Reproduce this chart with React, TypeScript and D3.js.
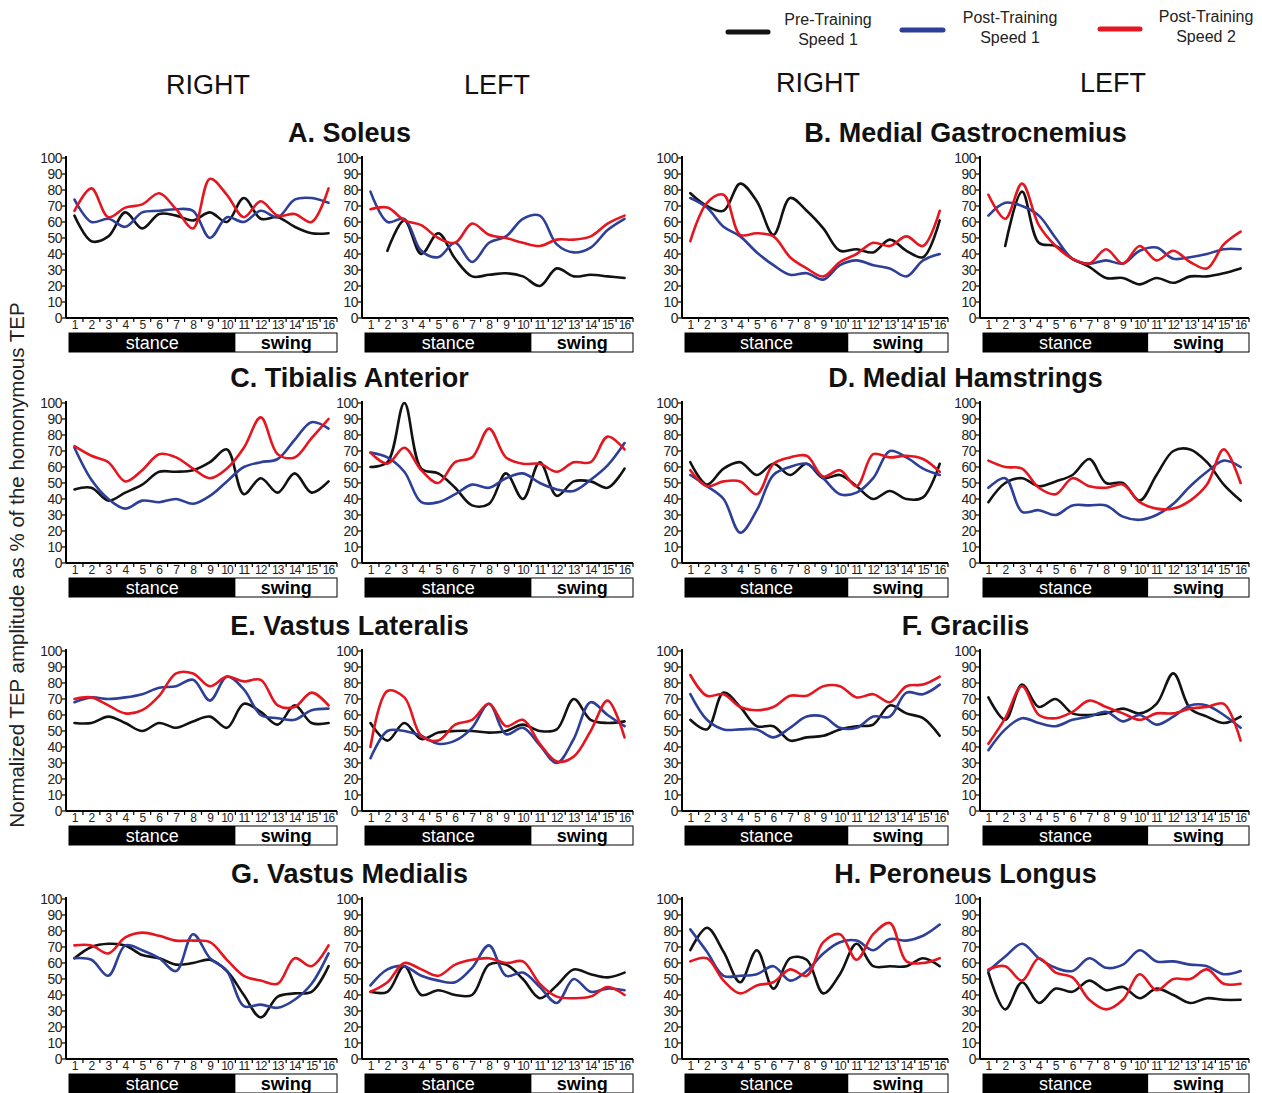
import * as d3 from 'd3'

// gait cycle bins 1..16
const bins = d3.range(1, 17).map(String)
const yTicks = d3.range(0, 101, 10)

// A. Soleus
const soleusR_pre = [64, 48, 51, 66, 56, 65, 64, 61, 66, 60, 75, 62, 63, 57, 53, 53]
const soleusR_post1 = [74, 60, 62, 57, 66, 67, 68, 67, 50, 63, 60, 67, 63, 74, 75, 72]
const soleusR_post2 = [67, 81, 63, 69, 71, 78, 68, 56, 87, 77, 63, 73, 64, 65, 60, 81]
const soleusL_pre = [null, 42, 61, 40, 53, 37, 26, 27, 28, 26, 20, 31, 26, 27, 26, 25]
const soleusL_post1 = [79, 60, 62, 42, 38, 47, 35, 47, 51, 62, 64, 46, 41, 44, 55, 62]
const soleusL_post2 = [68, 69, 61, 58, 50, 47, 59, 52, 50, 47, 45, 49, 49, 51, 59, 64]

// B. Medial Gastrocnemius
const mgR_pre = [78, 70, 67, 84, 73, 52, 75, 67, 56, 42, 43, 41, 49, 42, 38, 61]
const mgR_post1 = [75, 69, 57, 51, 41, 33, 27, 28, 24, 33, 36, 33, 31, 26, 36, 40]
const mgR_post2 = [48, 72, 77, 52, 53, 51, 38, 31, 26, 35, 40, 47, 45, 51, 45, 67]
const mgL_pre = [null, 45, 79, 47, 45, 37, 32, 25, 25, 21, 25, 22, 26, 26, 28, 31]
const mgL_post1 = [64, 72, 70, 64, 50, 37, 34, 36, 34, 42, 44, 37, 38, 40, 43, 43]
const mgL_post2 = [77, 62, 84, 58, 45, 37, 34, 43, 34, 45, 36, 42, 35, 31, 46, 54]

// C. Tibialis Anterior
const taR_pre = [46, 47, 39, 44, 49, 57, 57, 58, 63, 71, 43, 53, 44, 56, 44, 51]
const taR_post1 = [72, 52, 40, 34, 39, 38, 40, 37, 42, 51, 60, 63, 65, 77, 88, 84]
const taR_post2 = [73, 67, 63, 51, 58, 68, 66, 59, 53, 59, 72, 91, 68, 66, 78, 90]
const taL_pre = [60, 63, 100, 59, 56, 47, 36, 37, 56, 40, 63, 42, 51, 51, 47, 59]
const taL_post1 = [69, 66, 57, 38, 38, 43, 49, 47, 53, 56, 50, 46, 45, 52, 61, 75]
const taL_post2 = [69, 62, 72, 58, 50, 63, 66, 84, 66, 62, 62, 57, 63, 63, 79, 71]

// D. Medial Hamstrings
const mhR_pre = [63, 49, 59, 63, 55, 62, 55, 62, 53, 55, 48, 40, 45, 40, 41, 62]
const mhR_post1 = [55, 48, 40, 19, 33, 55, 60, 62, 53, 43, 44, 53, 70, 66, 59, 55]
const mhR_post2 = [58, 48, 51, 51, 43, 62, 66, 67, 54, 58, 48, 68, 66, 67, 65, 57]
const mhL_pre = [38, 50, 53, 48, 51, 55, 65, 50, 50, 39, 55, 70, 71, 63, 49, 39]
const mhL_post1 = [47, 53, 32, 33, 30, 36, 36, 36, 29, 27, 30, 37, 48, 57, 64, 60]
const mhL_post2 = [64, 60, 59, 47, 43, 53, 48, 47, 49, 38, 34, 34, 39, 49, 71, 50]

// E. Vastus Lateralis
const vlR_pre = [55, 55, 59, 55, 50, 55, 52, 56, 59, 52, 67, 62, 54, 66, 55, 55]
const vlR_post1 = [68, 71, 70, 71, 73, 77, 78, 82, 69, 84, 76, 60, 58, 57, 63, 64]
const vlR_post2 = [70, 71, 66, 61, 63, 72, 86, 86, 78, 84, 81, 82, 66, 65, 74, 66]
const vlL_pre = [55, 44, 55, 45, 49, 50, 50, 49, 50, 54, 50, 51, 70, 57, 55, 56]
const vlL_post1 = [33, 50, 50, 47, 42, 44, 52, 67, 48, 52, 41, 30, 45, 68, 60, 53]
const vlL_post2 = [40, 75, 71, 47, 44, 54, 57, 67, 53, 57, 42, 31, 34, 50, 69, 46]

// F. Gracilis
const grR_pre = [57, 51, 74, 65, 53, 53, 44, 46, 47, 51, 53, 54, 66, 61, 58, 47]
const grR_post1 = [73, 57, 51, 51, 51, 46, 52, 59, 59, 52, 52, 59, 59, 74, 73, 79]
const grR_post2 = [85, 72, 73, 65, 63, 65, 72, 72, 78, 78, 71, 73, 68, 78, 79, 84]
const grL_pre = [71, 57, 79, 65, 70, 61, 60, 61, 64, 61, 67, 86, 64, 59, 55, 59]
const grL_post1 = [38, 51, 58, 55, 53, 57, 59, 62, 56, 60, 54, 59, 66, 66, 60, 52]
const grL_post2 = [42, 58, 78, 60, 58, 62, 69, 65, 61, 57, 61, 61, 64, 65, 67, 44]

// G. Vastus Medialis
const vmR_pre = [63, 70, 72, 71, 65, 63, 59, 60, 62, 55, 40, 26, 39, 41, 42, 58]
const vmR_post1 = [63, 62, 52, 71, 68, 63, 55, 78, 63, 55, 33, 34, 32, 37, 47, 66]
const vmR_post2 = [71, 71, 66, 76, 79, 77, 74, 74, 73, 62, 52, 49, 47, 63, 58, 71]
const vmL_pre = [42, 42, 58, 40, 43, 40, 40, 59, 59, 50, 38, 46, 56, 53, 51, 54]
const vmL_post1 = [46, 56, 58, 52, 49, 48, 57, 71, 52, 54, 45, 35, 50, 42, 44, 43]
const vmL_post2 = [42, 48, 60, 56, 52, 59, 62, 63, 60, 61, 47, 39, 38, 39, 45, 40]

// H. Peroneus Longus
const plR_pre = [68, 82, 67, 48, 68, 44, 63, 62, 41, 53, 72, 58, 58, 58, 63, 58]
const plR_post1 = [81, 67, 52, 52, 53, 58, 49, 55, 66, 73, 74, 68, 75, 74, 77, 84]
const plR_post2 = [61, 63, 49, 41, 46, 48, 56, 52, 73, 78, 62, 78, 85, 61, 60, 63]
const plL_pre = [54, 31, 48, 35, 44, 42, 49, 43, 45, 38, 44, 40, 35, 38, 37, 37]
const plL_post1 = [55, 64, 72, 63, 57, 55, 63, 57, 59, 68, 61, 61, 59, 58, 53, 55]
const plL_post2 = [56, 58, 49, 63, 54, 51, 37, 31, 37, 53, 43, 50, 50, 56, 47, 47]

const muscles = [
  'A. Soleus', 'B. Medial Gastrocnemius', 'C. Tibialis Anterior', 'D. Medial Hamstrings',
  'E. Vastus Lateralis', 'F. Gracilis', 'G. Vastus Medialis', 'H. Peroneus Longus',
]
const seriesNames = [['Pre-Training', 'Speed 1'], ['Post-Training', 'Speed 1'], ['Post-Training', 'Speed 2']]
const colors = ['#121212', '#2d3f97', '#e4161f']

// [right, left] per muscle, each [pre, post1, post2]
const panels = [
  [[soleusR_pre, soleusR_post1, soleusR_post2], [soleusL_pre, soleusL_post1, soleusL_post2]],
  [[mgR_pre, mgR_post1, mgR_post2], [mgL_pre, mgL_post1, mgL_post2]],
  [[taR_pre, taR_post1, taR_post2], [taL_pre, taL_post1, taL_post2]],
  [[mhR_pre, mhR_post1, mhR_post2], [mhL_pre, mhL_post1, mhL_post2]],
  [[vlR_pre, vlR_post1, vlR_post2], [vlL_pre, vlL_post1, vlL_post2]],
  [[grR_pre, grR_post1, grR_post2], [grL_pre, grL_post1, grL_post2]],
  [[vmR_pre, vmR_post1, vmR_post2], [vmL_pre, vmL_post1, vmL_post2]],
  [[plR_pre, plR_post1, plR_post2], [plL_pre, plL_post1, plL_post2]],
]

const colLeft = [66, 362, 682, 980]
const colRight = [337, 633, 948, 1249]
const rowZero = [318, 563, 811, 1059]
const plotH = 160
const font = '"Liberation Sans", Arial, Helvetica, sans-serif'

function Panel({ col, row, series }: { col: number; row: number; series: (number | null)[][] }) {
  const x0 = colLeft[col]
  const x1 = colRight[col]
  const yb = rowZero[row]
  const x = d3.scaleBand().domain(bins).range([x0, x1])
  const y = d3.scaleLinear().domain([0, 100]).range([yb, yb - plotH])
  const line = d3.line<number | null>()
    .defined(d => d != null)
    .x((_, i) => (x(bins[i]) as number) + x.bandwidth() / 2)
    .y(d => y(d as number))
    .curve(d3.curveCatmullRom.alpha(0.5))
  const split = (x('10') as number) + x.bandwidth()
  const barTop = yb + 15
  const barH = 19
  return (
    <g>
      {series.map((s, i) => (
        <path key={i} d={line(s) || ''} fill="none" stroke={colors[i]} strokeWidth={2.6}
          strokeLinejoin="round" strokeLinecap="round" />
      ))}
      <line x1={x0} x2={x0} y1={y(100) - 2} y2={yb} stroke="#000" strokeWidth={2} />
      <line x1={x0} x2={x1} y1={yb} y2={yb} stroke="#000" strokeWidth={2} />
      {yTicks.map(t => (
        <g key={t}>
          <line x1={x0 - 4} x2={x0} y1={y(t)} y2={y(t)} stroke="#000" strokeWidth={1.2} />
          <text x={x0 - 4} y={y(t) + 5} textAnchor="end" fontSize={13.8} fontFamily={font}
            letterSpacing={-0.4} fill="#222">{t}</text>
        </g>
      ))}
      {bins.map(b => (
        <g key={b}>
          <line x1={(x(b) as number) + x.bandwidth()} x2={(x(b) as number) + x.bandwidth()}
            y1={yb} y2={yb + 4} stroke="#000" strokeWidth={1.2} />
          <text x={(x(b) as number) + x.bandwidth() / 2} y={yb + 11} textAnchor="middle"
            fontSize={12} fontFamily={font} letterSpacing={-1} fill="#222">{b}</text>
        </g>
      ))}
      <rect x={x0 + 3} y={barTop} width={x1 - x0 - 3} height={barH} fill="#fff" stroke="#000" strokeWidth={1} />
      <rect x={x0 + 3} y={barTop} width={split - x0 - 3} height={barH} fill="#000" />
      <text x={(x0 + 3 + split) / 2} y={barTop + 15.5} textAnchor="middle" fontSize={18}
        fontFamily={font} fill="#fff">stance</text>
      <text x={(split + x1) / 2} y={barTop + 15.5} textAnchor="middle" fontSize={18}
        fontWeight="bold" fontFamily={font} fill="#000">swing</text>
    </g>
  )
}

export default function App() {
  const legendX = [[728, 768, 828], [902, 943, 1010], [1100, 1140, 1206]]
  const legendY = [30, 28, 27]
  const sideLabels = [['RIGHT', 208, 94], ['LEFT', 497, 94], ['RIGHT', 818, 92], ['LEFT', 1113, 92]]
  return (
    <svg width={1262} height={1093} style={{ position: 'absolute', left: 0, top: 0, background: '#fff' }}>
      {seriesNames.map((n, i) => (
        <g key={i}>
          <line x1={legendX[i][0]} x2={legendX[i][1]} y1={legendY[i] + 2} y2={legendY[i] + 2}
            stroke={colors[i]} strokeWidth={5} strokeLinecap="round" />
          <text x={legendX[i][2]} y={legendY[i] - 5} textAnchor="middle" fontSize={16}
            fontFamily={font} fill="#222">{n[0]}</text>
          <text x={legendX[i][2]} y={legendY[i] + 15} textAnchor="middle" fontSize={16}
            fontFamily={font} fill="#222">{n[1]}</text>
        </g>
      ))}
      {sideLabels.map(([t, cx, cy], i) => (
        <text key={i} x={cx as number} y={cy as number} textAnchor="middle" fontSize={27}
          fontFamily={font} fill="#111">{t}</text>
      ))}
      <text transform="translate(24,565) rotate(-90)" textAnchor="middle" fontSize={20.5}
        fontFamily={font} fill="#222">Normalized TEP amplitude as % of the homonymous TEP</text>
      {muscles.map((m, k) => {
        const row = Math.floor(k / 2)
        const pair = k % 2
        const cx = (colLeft[pair * 2] + colRight[pair * 2 + 1]) / 2
        return (
          <g key={m}>
            <text x={cx} y={rowZero[row] - 176} textAnchor="middle" fontSize={27}
              fontWeight="bold" fontFamily={font} fill="#111">{m}</text>
            <Panel col={pair * 2} row={row} series={panels[k][0]} />
            <Panel col={pair * 2 + 1} row={row} series={panels[k][1]} />
          </g>
        )
      })}
    </svg>
  )
}
